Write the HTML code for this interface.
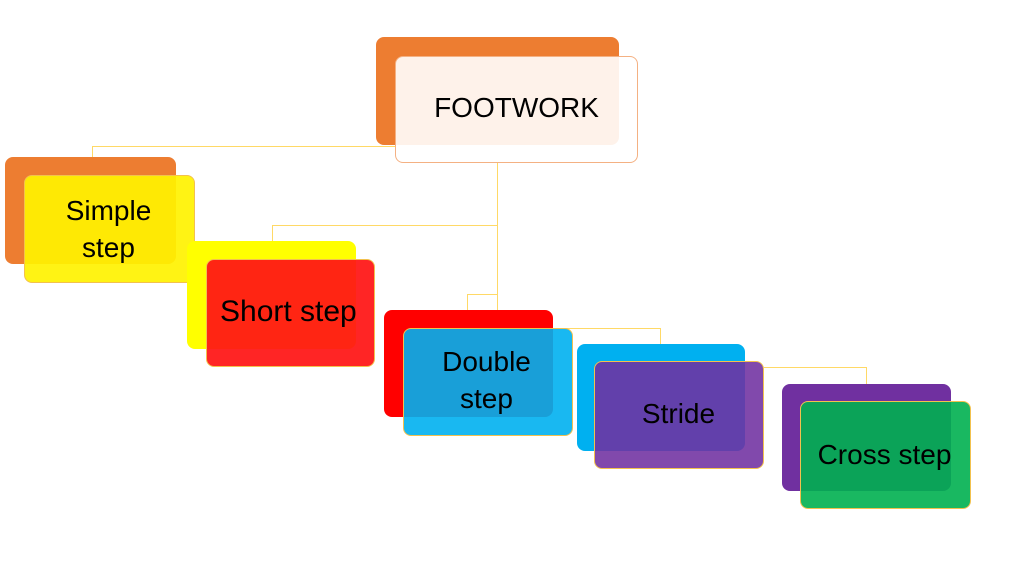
<!DOCTYPE html>
<html><head><meta charset="utf-8"><style>
body{margin:0;width:1024px;height:576px;background:#fff;position:relative;overflow:hidden;font-family:"Liberation Sans",sans-serif;}
.b{position:absolute;border-radius:8px;}
.f{position:absolute;border-radius:8px;box-sizing:border-box;border:1px solid #F2C14E;display:flex;align-items:center;justify-content:center;text-align:center;font-size:28px;line-height:37px;color:#000;}
.l{position:absolute;background:#FFD966;}
</style></head><body>
<div class="l" style="left:92px;top:146px;width:303px;height:1px"></div>
<div class="l" style="left:92px;top:146px;width:1px;height:12px"></div>
<div class="l" style="left:497px;top:163px;width:1px;height:148px"></div>
<div class="l" style="left:272px;top:225px;width:225px;height:1px"></div>
<div class="l" style="left:272px;top:225px;width:1px;height:17px"></div>
<div class="l" style="left:467px;top:294px;width:30px;height:1px"></div>
<div class="l" style="left:467px;top:294px;width:1px;height:17px"></div>
<div class="l" style="left:553px;top:328px;width:107px;height:1px"></div>
<div class="l" style="left:660px;top:328px;width:1px;height:17px"></div>
<div class="l" style="left:764px;top:367px;width:102px;height:1px"></div>
<div class="l" style="left:866px;top:367px;width:1px;height:18px"></div>

<div class="b" style="left:376px;top:37px;width:243px;height:108px;background:#ED7D31"></div>
<div class="f" style="left:395px;top:56px;width:243px;height:107px;background:rgba(255,255,255,0.9);border-color:#F4B183"><span style="margin-top:-4px;margin-left:0px">FOOTWORK</span></div>

<div class="b" style="left:5px;top:157px;width:171px;height:107px;background:#ED7D31"></div>
<div class="f" style="left:24px;top:175px;width:171px;height:108px;background:rgba(255,242,0,0.92)"><span style="margin-left:-2px">Simple<br>step</span></div>

<div class="b" style="left:187px;top:241px;width:169px;height:108px;background:#FFFF00"></div>
<div class="f" style="left:206px;top:259px;width:169px;height:108px;background:rgba(255,20,20,0.93);justify-content:flex-start;padding-left:13px"><span style="margin-top:-4px;font-size:30px;white-space:nowrap">Short step</span></div>

<div class="b" style="left:384px;top:310px;width:169px;height:107px;background:#FF0000"></div>
<div class="f" style="left:403px;top:328px;width:170px;height:108px;background:rgba(0,176,240,0.9)"><span style="margin-top:-4px;margin-left:-3px">Double<br>step</span></div>

<div class="b" style="left:577px;top:344px;width:168px;height:107px;background:#00B0F0"></div>
<div class="f" style="left:594px;top:361px;width:170px;height:108px;background:rgba(112,48,160,0.88)"><span style="margin-top:-4px;margin-left:-1px">Stride</span></div>

<div class="b" style="left:782px;top:384px;width:169px;height:107px;background:#7030A0"></div>
<div class="f" style="left:800px;top:401px;width:171px;height:108px;background:rgba(0,176,80,0.9)"><span style="margin-top:-2px;margin-left:-2px;white-space:nowrap">Cross step</span></div>
</body></html>
